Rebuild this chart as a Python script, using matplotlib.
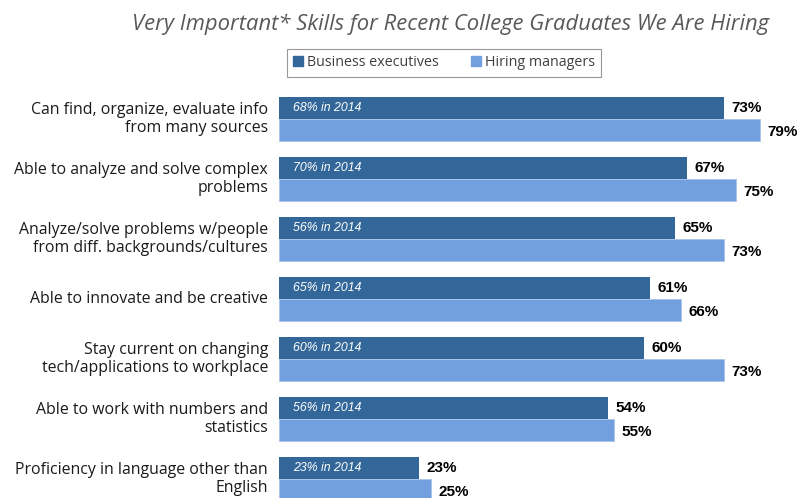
import numpy as np
import matplotlib.pyplot as plt
from matplotlib.patches import Patch

skills = [
    "Can find, organize, evaluate info\nfrom many sources",
    "Able to analyze and solve complex\nproblems",
    "Analyze/solve problems w/people\nfrom diff. backgrounds/cultures",
    "Able to innovate and be creative",
    "Stay current on changing\ntech/applications to workplace",
    "Able to work with numbers and\nstatistics",
    "Proficiency in language other than\nEnglish",
]
executives = [73, 67, 65, 61, 60, 54, 23]
managers = [79, 75, 73, 66, 73, 55, 25]
executives_2014 = [68, 70, 56, 65, 60, 56, 23]

dark = "#336699"
light = "#72A0DE"
font = "Open Sans"

fig = plt.figure(figsize=(8.02, 4.98), dpi=100)
ax = fig.add_axes([279 / 802, 0, 523 / 802, 1])

pos = np.arange(len(skills))
h = 22 / 60
ax.barh(pos - h / 2, executives, height=h, color=dark, edgecolor="none")
ax.barh(pos + h / 2, managers, height=h, color=light, edgecolor="#A9C4EA", linewidth=0.6)

for i in range(len(skills)):
    ax.text(2.3, pos[i] - h / 2, "%d%% in 2014" % executives_2014[i], color="white",
            style="italic", fontsize=8.8, family="Liberation Sans", va="center", ha="left")
    ax.text(executives[i] + 1.2, pos[i] - h / 2, "%d%%" % executives[i], fontsize=11,
            weight="bold", family="Liberation Sans", va="center", ha="left")
    ax.text(managers[i] + 1.2, pos[i] + h / 2 + 0.04, "%d%%" % managers[i], fontsize=11,
            weight="bold", family="Liberation Sans", va="center", ha="left")
    ax.text(-1.8, pos[i], skills[i], fontsize=11.4, family=font, color="#1a1a1a",
            ha="right", va="center", multialignment="right", linespacing=1.15)

ax.set_xlim(0, 523 / 6.09)
ax.set_ylim(498 / 60 - 119 / 60, -119 / 60)
ax.axis("off")

fig.text(450 / 802, 1 - 24 / 498, "Very Important* Skills for Recent College Graduates We Are Hiring",
         ha="center", va="center", fontsize=15.8, style="italic", family=font, color="#595959")

handles = [Patch(color=dark), Patch(color=light)]
leg = fig.legend(handles, ["Business executives", "Hiring managers"], ncol=2,
                 loc="center", bbox_to_anchor=(444 / 802, 1 - 63 / 498),
                 prop={"family": font, "size": 10.3}, frameon=True, fancybox=False,
                 handlelength=0.7, handleheight=0.7, handletextpad=0.3, columnspacing=2.2,
                 borderpad=0.45, borderaxespad=0)
leg.get_frame().set_edgecolor("#7f7f7f")
leg.get_frame().set_linewidth(0.8)
for t in leg.get_texts():
    t.set_color("#404040")

fig.savefig("out.png", dpi=100)
